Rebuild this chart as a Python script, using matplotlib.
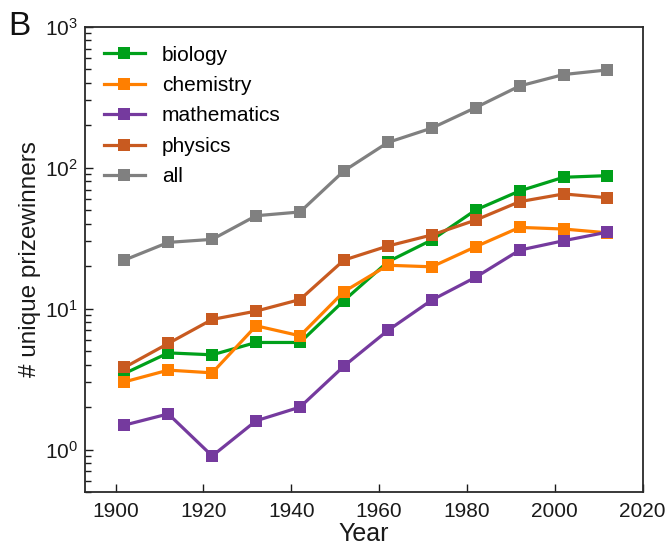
import matplotlib
matplotlib.use("Agg")
import matplotlib.pyplot as plt
import numpy as np

plt.rcParams['font.family'] = ['Liberation Sans', 'DejaVu Sans']

years = [1902, 1912, 1922, 1932, 1942, 1952, 1962, 1972, 1982, 1992, 2002, 2012]

biology = [3.46, 4.85, 4.70, 5.75, 5.75, 11.4, 21.5, 30.7, 50.1, 68.4, 85.5, 87.8]
chemistry = [3.02, 3.66, 3.50, 7.55, 6.41, 13.2, 20.3, 19.8, 27.5, 37.7, 36.7, 34.5]
mathematics = [1.49, 1.79, 0.90, 1.60, 2.00, 3.91, 7.0, 11.5, 16.7, 26.0, 30.3, 34.9]
physics = [3.82, 5.66, 8.38, 9.60, 11.6, 22.1, 27.8, 33.3, 42.5, 57.4, 65.1, 61.2]
all_fields = [22.1, 29.5, 31.0, 45.6, 48.5, 94.9, 151, 191, 267, 380, 458, 494]

series = [
    ("biology", biology, "#00A01A"),
    ("chemistry", chemistry, "#FF7F00"),
    ("mathematics", mathematics, "#753A9E"),
    ("physics", physics, "#C85A20"),
    ("all", all_fields, "#808080"),
]

fig = plt.figure(figsize=(6.68, 5.46), dpi=100)
ax = fig.add_axes([0.127, 0.099, 0.835, 0.852])

for name, vals, col in series:
    ax.plot(years, vals, color=col, lw=2.3, marker='s', markersize=8.5,
            markeredgewidth=0, label=name)

ax.set_yscale('log')
ax.set_xlim(1893, 2020)
ax.set_ylim(0.5, 1000)
ax.set_xticks([1900, 1920, 1940, 1960, 1980, 2000, 2020])

ax.tick_params(axis='both', which='both', direction='in', labelsize=15,
               colors='#1a1a1a', width=1)
ax.tick_params(axis='both', which='major', length=6)
ax.tick_params(axis='y', which='minor', length=4)
ax.tick_params(axis='x', which='major', pad=7)
ax.tick_params(axis='y', which='major', pad=5)
ax.tick_params(axis='x', which='both', top=False)
ax.tick_params(axis='y', which='both', right=False)
for sp in ax.spines.values():
    sp.set_linewidth(1.3)
    sp.set_color('#2a2a2a')

ax.set_xlabel("Year", fontsize=18, color='#1a1a1a', labelpad=1)
ax.set_ylabel("# unique prizewinners", fontsize=17.5, color='#1a1a1a', labelpad=3)

leg = ax.legend(loc='upper left', frameon=False, fontsize=15,
                handlelength=2.0, labelspacing=0.55, borderaxespad=0.5,
                bbox_to_anchor=(0.0, 1.0))

fig.text(0.012, 0.935, "B", fontsize=24, color='#111111')

fig.savefig("out.png", dpi=100)
